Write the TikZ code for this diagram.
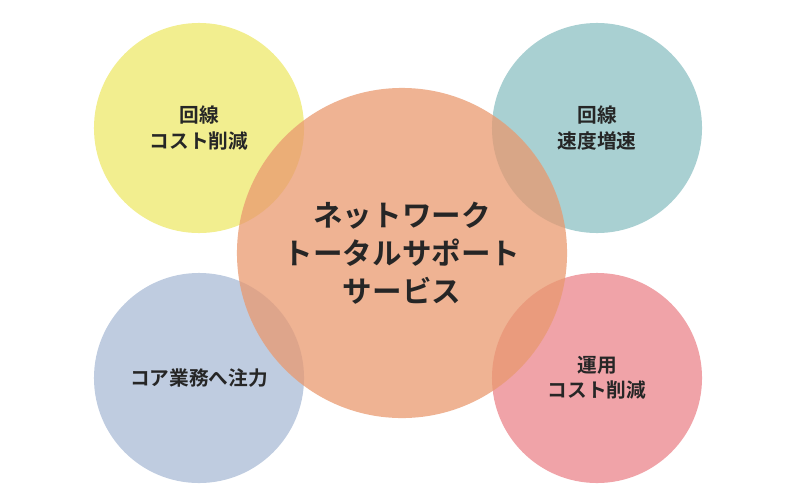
\documentclass[tikz,border=0pt]{standalone}
\usepackage{fontspec}
\setmainfont{Noto Sans CJK JP}[BoldFont={* Bold}]
\usetikzlibrary{positioning}
\definecolor{cyellow}{HTML}{F2EE8F}
\definecolor{cteal}{HTML}{A9D0D2}
\definecolor{cblue}{HTML}{BFCCE0}
\definecolor{cpink}{HTML}{F0A3A8}
\definecolor{corange}{HTML}{E9996F}
\tikzstyle{smallcircle}=[circle, minimum size=5.25cm, inner sep=0pt, align=center, font=\fontsize{14}{18}\selectfont\bfseries, text=black!85]
\tikzstyle{bigcircle}=[circle, minimum size=8.25cm, inner sep=0pt, align=center, fill=corange, fill opacity=0.75, text opacity=1, font=\fontsize{21}{27}\selectfont\bfseries, text=black!85]
\begin{document}
\begin{tikzpicture}[x=0.025cm, y=-0.025cm]
      \useasboundingbox (0,0) rectangle (800,500);
      \node[smallcircle, fill=cyellow] (costline) at (199,128) {回線\\コスト削減};
      \node[smallcircle, fill=cteal] (speedup) at (597,128) {回線\\速度増速};
      \node[smallcircle, fill=cblue] (corework) at (199,378) {コア業務へ注力};
      \node[smallcircle, fill=cpink] (costops) at (597,378) {運用\\コスト削減};
      \node[bigcircle] (support) at (402,253) {ネットワーク\\トータルサポート\\サービス};
    \end{tikzpicture}
\end{document}
